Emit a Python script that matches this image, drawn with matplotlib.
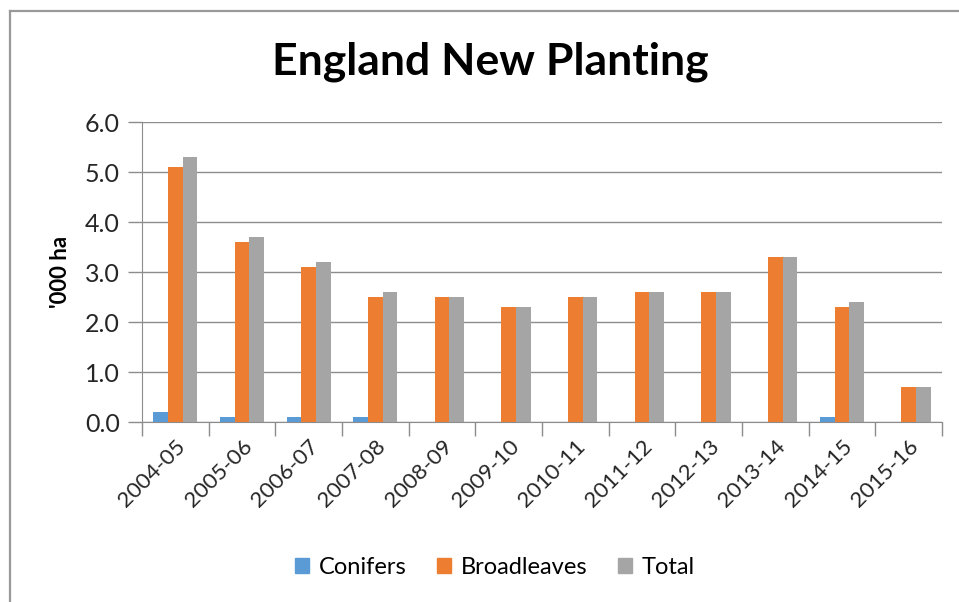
import matplotlib
matplotlib.use("Agg")
import matplotlib.pyplot as plt
import numpy as np
from matplotlib.patches import Rectangle
from matplotlib.lines import Line2D

years = ["2004-05", "2005-06", "2006-07", "2007-08", "2008-09", "2009-10",
         "2010-11", "2011-12", "2012-13", "2013-14", "2014-15", "2015-16"]
conifers = [0.2, 0.1, 0.1, 0.1, 0.0, 0.0, 0.0, 0.0, 0.0, 0.0, 0.1, 0.0]
broadleaves = [5.1, 3.6, 3.1, 2.5, 2.5, 2.3, 2.5, 2.6, 2.6, 3.3, 2.3, 0.7]
total = [5.3, 3.7, 3.2, 2.6, 2.5, 2.3, 2.5, 2.6, 2.6, 3.3, 2.4, 0.7]
yticks = [0.0, 1.0, 2.0, 3.0, 4.0, 5.0, 6.0]

c_con = "#5B9BD5"
c_broad = "#ED7D31"
c_tot = "#A5A5A5"
grid_c = "#8C8C8C"
text_c = "#262626"

plt.rcParams['font.family'] = ['Lato', 'DejaVu Sans']

W, H = 959, 602
fig = plt.figure(figsize=(W / 100, H / 100), dpi=100)

# outer chart frame (top and left edges visible)
fig.add_artist(Line2D([9.5 / W, 9.5 / W], [0, 1 - 11 / H], color="#999999", lw=1.6,
                      transform=fig.transFigure))
fig.add_artist(Line2D([9.5 / W, 1], [1 - 11 / H, 1 - 11 / H], color="#999999", lw=1.6,
                      transform=fig.transFigure))

left, right, top, bottom = 142, 942, 122, 422
ax = fig.add_axes([left / W, 1 - bottom / H, (right - left) / W, (bottom - top) / H])

x = np.arange(len(years))
bw = 0.22
ax.bar(x - bw, conifers, bw, color=c_con, label="Conifers", zorder=3)
ax.bar(x, broadleaves, bw, color=c_broad, label="Broadleaves", zorder=3)
ax.bar(x + bw, total, bw, color=c_tot, label="Total", zorder=3)

ax.set_xlim(-0.5, len(years) - 0.5)
ax.set_ylim(0, 6.0)
ax.set_yticks(yticks)
ax.set_yticklabels([f"{v:.1f}" for v in yticks], fontsize=18, color=text_c)
ax.yaxis.grid(True, color=grid_c, lw=1.0, zorder=0)
ax.tick_params(axis="y", length=10, color=grid_c, width=1.0, pad=6)

ax.set_xticks(x)
ax.set_xticklabels(years, rotation=45, ha="right", rotation_mode="anchor",
                   fontsize=16, color=text_c)
ax.tick_params(axis="x", length=0, pad=10)
ax.set_xticks(np.arange(-0.5, len(years) + 0.5, 1.0), minor=True)
ax.tick_params(axis="x", which="minor", length=10, color=grid_c, width=1.0)

for s in ["top", "right"]:
    ax.spines[s].set_visible(False)
ax.spines["left"].set_color(grid_c)
ax.spines["bottom"].set_color(grid_c)

ax.set_ylabel("'000 ha", fontsize=16, fontweight="bold", color="#000000", labelpad=10)

fig.text(490 / W, 1 - 62 / H, "England New Planting", ha="center", va="center",
         fontsize=32, fontweight="bold", color="#000000")

handles = [Rectangle((0, 0), 1, 1, color=c) for c in (c_con, c_broad, c_tot)]
fig.legend(handles, ["Conifers", "Broadleaves", "Total"], loc="center",
           bbox_to_anchor=(495 / W, 1 - 567 / H), ncol=3, frameon=False,
           fontsize=17, handlelength=0.6, handleheight=0.6, handletextpad=0.4,
           columnspacing=1.3)

fig.savefig("out.png", dpi=100, facecolor="white")
